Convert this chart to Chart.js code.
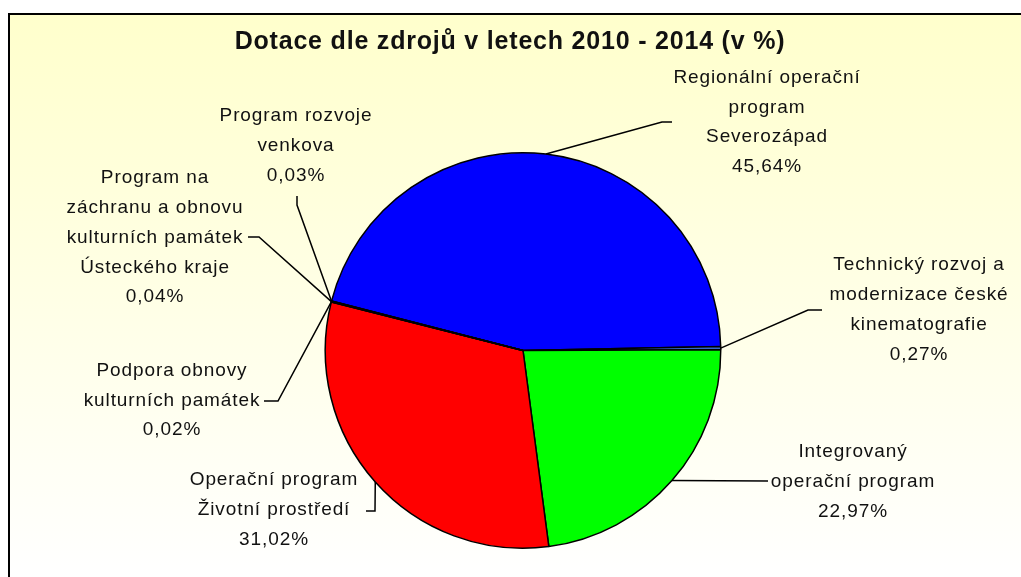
<!DOCTYPE html>
<html>
<head>
<meta charset="utf-8">
<script src="https://cdn.jsdelivr.net/npm/chart.js@4"></script>
<style>
  html, body { margin: 0; padding: 0; background: #fff; }
  canvas { display: block; }
</style>
</head>
<body>
<canvas id="chart" width="1021" height="577"></canvas>
<script>
const title = 'Dotace dle zdrojů v letech 2010 - 2014 (v %)';

const categories = [
    ['Regionální operační', 'program', 'Severozápad'],
    ['Technický rozvoj a', 'modernizace české', 'kinematografie'],
    ['Integrovaný', 'operační program'],
    ['Operační program', 'Životní prostředí'],
    ['Podpora obnovy', 'kulturních památek'],
    ['Program na', 'záchranu a obnovu', 'kulturních památek', 'Ústeckého kraje'],
    ['Program rozvoje', 'venkova']
];
const shares = [45.64, 0.27, 22.97, 31.02, 0.02, 0.04, 0.03];
const sliceColors = ['#0000FF', '#3366CC', '#00FF00', '#FF0000', '#993366', '#3366FF', '#CCCCFF'];

// where Excel put each label (center x, first line y) and the bend of its leader line
const labelLayout = [
    { x: 767, y: 77.5, leader: [[662, 122], [672, 122]] },
    { x: 919, y: 265,  leader: [[808, 310], [822, 310]] },
    { x: 853, y: 452,  leader: [[768, 481]] },
    { x: 274, y: 480,  leader: [[375, 511], [366, 511]] },
    { x: 172, y: 370.5, leader: [[278, 401], [264, 401]] },
    { x: 155, y: 178,  leader: [[259, 237], [248, 237]] },
    { x: 296, y: 116,  leader: [[297, 205], [297, 196]] }
];
const lineStep = 29.8;

const fmt = v => v.toFixed(2).replace('.', ',') + '%';

const background = {
    id: 'background',
    beforeDraw(chart) {
        const ctx = chart.ctx;
        ctx.save();
        ctx.fillStyle = '#fff';
        ctx.fillRect(0, 0, chart.width, chart.height);
        const g = ctx.createLinearGradient(0, 14, 0, chart.height);
        g.addColorStop(0, '#FFFFCC');
        g.addColorStop(1, '#FFFFFF');
        ctx.fillStyle = g;
        ctx.fillRect(9, 14, chart.width - 9, chart.height - 14);
        ctx.strokeStyle = '#000';
        ctx.lineWidth = 2;
        ctx.beginPath();
        ctx.moveTo(9, chart.height);
        ctx.lineTo(9, 14);
        ctx.lineTo(chart.width, 14);
        ctx.stroke();
        ctx.restore();
    }
};

const labels = {
    id: 'sliceLabels',
    afterDraw(chart) {
        const ctx = chart.ctx;
        const arcs = chart.getDatasetMeta(0).data;
        ctx.save();
        ctx.fillStyle = '#111';
        ctx.textAlign = 'center';
        ctx.textBaseline = 'middle';
        ctx.font = 'bold 25px "Liberation Sans", Arial, sans-serif';
        ctx.letterSpacing = '0.8px';
        ctx.fillText(title, 510, 42);

        ctx.font = '19px "Liberation Sans", Arial, sans-serif';
        ctx.letterSpacing = '0.9px';
        ctx.strokeStyle = '#000';
        ctx.lineWidth = 1.5;
        arcs.forEach((arc, i) => {
            const p = arc.getProps(['x', 'y', 'startAngle', 'endAngle', 'outerRadius'], true);
            const mid = (p.startAngle + p.endAngle) / 2;
            const sx = p.x + Math.cos(mid) * p.outerRadius;
            const sy = p.y + Math.sin(mid) * p.outerRadius;
            const lay = labelLayout[i];
            ctx.beginPath();
            ctx.moveTo(sx, sy);
            lay.leader.forEach(pt => ctx.lineTo(pt[0], pt[1]));
            ctx.stroke();
            const lines = categories[i].concat(fmt(shares[i]));
            lines.forEach((t, k) => ctx.fillText(t, lay.x, lay.y + k * lineStep));
        });
        ctx.restore();
    }
};

new Chart(document.getElementById('chart'), {
    type: 'pie',
    data: {
        labels: categories.map(c => c.join(' ')),
        datasets: [{
            data: shares,
            backgroundColor: sliceColors,
            borderColor: '#000',
            borderWidth: 1.5
        }]
    },
    options: {
        responsive: false,
        devicePixelRatio: 1,
        animation: false,
        rotation: 284.5,
        layout: { padding: { left: 225, right: 200, top: 152, bottom: 28 } },
        plugins: {
            legend: { display: false },
            tooltip: { enabled: false }
        }
    },
    plugins: [background, labels]
});
</script>
</body>
</html>
